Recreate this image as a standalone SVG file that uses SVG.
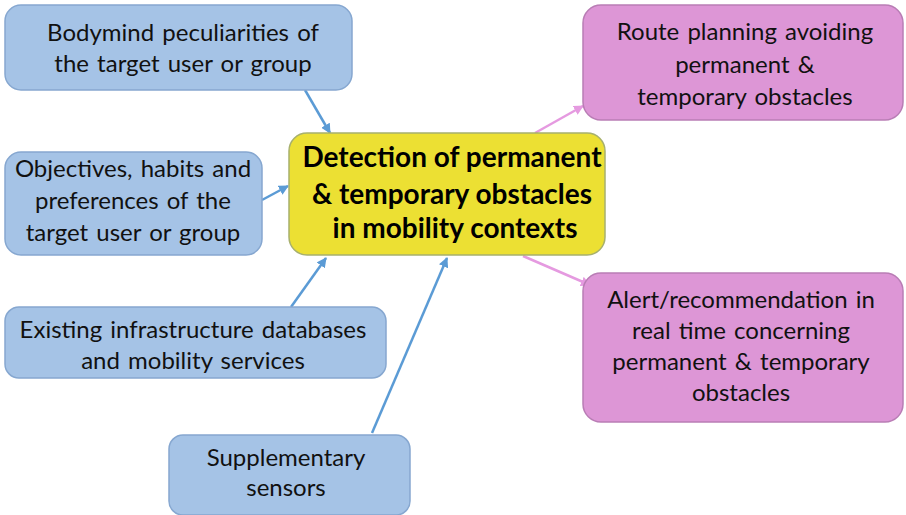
<svg xmlns="http://www.w3.org/2000/svg" width="906" height="515" viewBox="0 0 906 515">
  <style>
    .in { fill: #A5C3E6; stroke: #86A7D0; stroke-width: 1.5; }
    .out { fill: #DD96D6; stroke: #B97DB5; stroke-width: 1.5; }
    .core { fill: #ECE033; stroke: #A7B06E; stroke-width: 1.5; }
    text { font-family: Lato, "Liberation Sans", sans-serif; font-size: 24px; word-spacing: 2px; fill: #111; text-anchor: middle; }
    .bold { font-weight: bold; font-size: 28px; word-spacing: 0; fill: #000; }
    .blue { stroke: #5B9BD5; stroke-width: 2.5; fill: none; marker-end: url(#ab); }
    .pink { stroke: #E59AE0; stroke-width: 2.5; fill: none; marker-end: url(#ap); }
  </style>
  <defs>
    <marker id="ab" viewBox="0 0 10 10" refX="9" refY="5" markerWidth="4" markerHeight="4" orient="auto">
      <path d="M0,0 L10,5 L0,10 z" fill="#5B9BD5"/>
    </marker>
    <marker id="ap" viewBox="0 0 10 10" refX="9" refY="5" markerWidth="4" markerHeight="4" orient="auto">
      <path d="M0,0 L10,5 L0,10 z" fill="#E59AE0"/>
    </marker>
  </defs>

  <rect width="906" height="515" fill="#fff"/>

  <g id="connectors">
    <line class="blue" x1="305" y1="90" x2="330" y2="133"/>
    <line class="blue" x1="262" y1="200" x2="288" y2="186"/>
    <line class="blue" x1="291" y1="307" x2="326" y2="258"/>
    <line class="blue" x1="372" y1="433" x2="447" y2="258"/>
    <line class="pink" x1="535" y1="133" x2="583" y2="106"/>
    <line class="pink" x1="523" y1="256" x2="590" y2="285"/>
  </g>

  <g id="bodymind">
    <rect class="in" x="5" y="5" width="347" height="85" rx="16"/>
    <text x="183" y="41">Bodymind peculiarities of</text>
    <text x="183" y="72">the target user or group</text>
  </g>

  <g id="objectives">
    <rect class="in" x="5" y="152" width="257" height="103" rx="16"/>
    <text x="133" y="177">Objectives, habits and</text>
    <text x="133" y="209">preferences of the</text>
    <text x="133" y="241">target user or group</text>
  </g>

  <g id="infrastructure">
    <rect class="in" x="5" y="307" width="381" height="71" rx="14"/>
    <text x="193" y="338">Existing infrastructure databases</text>
    <text x="193" y="369">and mobility services</text>
  </g>

  <g id="sensors">
    <rect class="in" x="169" y="435" width="241" height="80" rx="14"/>
    <text x="286" y="466">Supplementary</text>
    <text x="286" y="496">sensors</text>
  </g>

  <g id="detection">
    <rect class="core" x="289" y="133" width="316" height="122" rx="18"/>
    <text class="bold" x="452" y="167">Detection of permanent</text>
    <text class="bold" x="452" y="204">&amp; temporary obstacles</text>
    <text class="bold" x="455" y="238">in mobility contexts</text>
  </g>

  <g id="route-planning">
    <rect class="out" x="583" y="5" width="320" height="115" rx="18"/>
    <text x="745" y="40">Route planning avoiding</text>
    <text x="745" y="73">permanent &amp;</text>
    <text x="745" y="105">temporary obstacles</text>
  </g>

  <g id="alert">
    <rect class="out" x="583" y="273" width="320" height="149" rx="18"/>
    <text x="741" y="308">Alert/recommendation in</text>
    <text x="741" y="339">real time concerning</text>
    <text x="741" y="370">permanent &amp; temporary</text>
    <text x="741" y="401">obstacles</text>
  </g>
</svg>
